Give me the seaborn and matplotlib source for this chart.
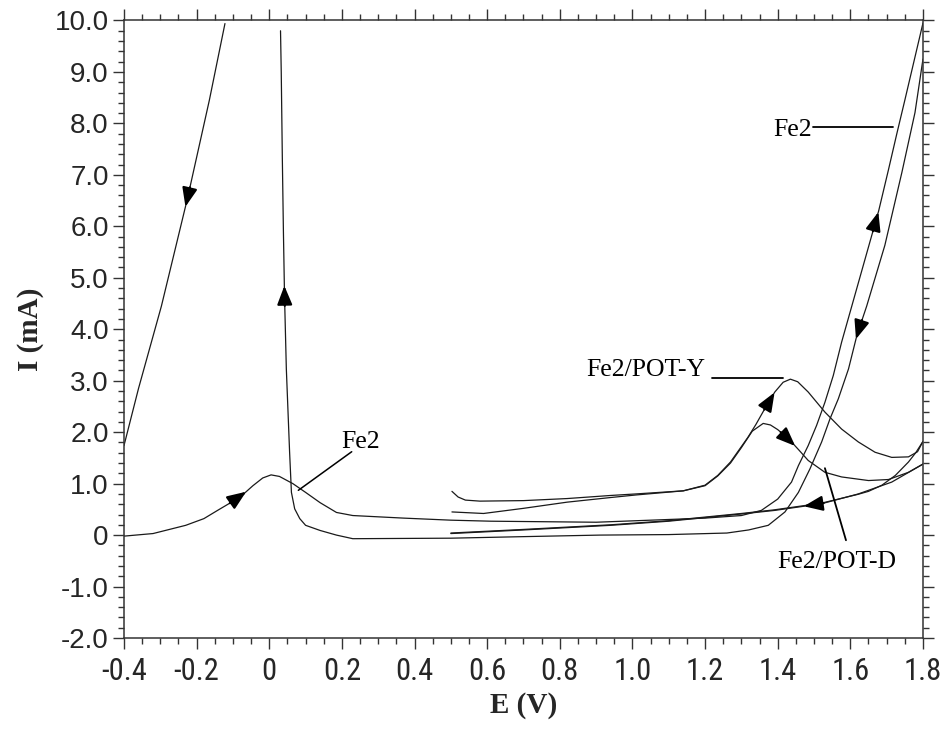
import numpy as np
import pandas as pd
import matplotlib
matplotlib.use("Agg")
import matplotlib.pyplot as plt
import seaborn as sns
from matplotlib import font_manager
from matplotlib.ticker import MultipleLocator

# ---------------- data ----------------
# Fe2, forward scan
fe2_fwd_E = [-0.40, -0.32, -0.23, -0.18, -0.14, -0.08, -0.045, -0.018, 0.005, 0.028,
             0.065, 0.10, 0.14, 0.185, 0.23, 0.37, 0.50, 0.61, 0.90, 1.05,
             1.20, 1.30, 1.355, 1.40, 1.438, 1.457, 1.484, 1.507, 1.53, 1.553,
             1.576, 1.604, 1.64, 1.678, 1.705, 1.728, 1.75, 1.775, 1.80]
fe2_fwd_I = [-0.02, 0.03, 0.19, 0.32, 0.49, 0.74, 0.96, 1.11, 1.17, 1.14,
             1.00, 0.83, 0.63, 0.44, 0.38, 0.33, 0.29, 0.27, 0.25, 0.29,
             0.33, 0.38, 0.48, 0.70, 1.03, 1.35, 1.74, 2.13, 2.58, 3.10,
             3.75, 4.45, 5.35, 6.30, 7.10, 7.80, 8.45, 9.20, 9.95]
# Fe2, reverse scan
fe2_rev_E = [1.80, 1.778, 1.742, 1.695, 1.645, 1.618, 1.595, 1.567, 1.544, 1.521,
             1.489, 1.457, 1.42, 1.374, 1.32, 1.26, 1.10, 0.91, 0.70, 0.50,
             0.23, 0.185, 0.14, 0.10, 0.084, 0.07, 0.061, 0.056, 0.047, 0.042,
             0.039, 0.036, 0.033, 0.031]
fe2_rev_I = [9.25, 8.21, 7.05, 5.63, 4.45, 3.88, 3.23, 2.65, 2.26, 1.81,
             1.29, 0.83, 0.45, 0.19, 0.10, 0.04, 0.01, 0.00, -0.03, -0.06,
             -0.07, 0.00, 0.09, 0.19, 0.32, 0.51, 0.83, 1.61, 3.23, 4.65,
             5.88, 7.31, 8.99, 9.80]
# Fe2, return branch on the far left
fe2_ret_E = [-0.122, -0.165, -0.225, -0.297, -0.36, -0.40]
fe2_ret_I = [9.94, 8.45, 6.55, 4.45, 2.85, 1.74]

# Fe2/POT-Y
poty_fwd_E = [0.503, 0.52, 0.54, 0.58, 0.70, 0.82, 0.94, 1.01, 1.14, 1.20,
              1.235, 1.27, 1.30, 1.318, 1.34, 1.364, 1.392, 1.415, 1.435, 1.455,
              1.484, 1.53, 1.576, 1.622, 1.668, 1.714, 1.76, 1.785, 1.80]
poty_fwd_I = [0.85, 0.74, 0.68, 0.66, 0.67, 0.71, 0.77, 0.80, 0.86, 0.97,
              1.16, 1.42, 1.72, 1.90, 2.15, 2.45, 2.78, 2.97, 3.03, 2.98,
              2.78, 2.39, 2.06, 1.81, 1.61, 1.51, 1.52, 1.62, 1.82]
poty_rev_E = [1.80, 1.78, 1.76, 1.724, 1.687, 1.65, 1.62, 1.52, 1.39, 1.30,
              1.20, 1.10, 0.94, 0.70, 0.50]
poty_rev_I = [1.82, 1.60, 1.42, 1.16, 0.97, 0.85, 0.79, 0.62, 0.49, 0.42,
              0.35, 0.28, 0.20, 0.11, 0.04]

# Fe2/POT-D
potd_fwd_E = [0.503, 0.59, 0.70, 0.82, 0.94, 1.01, 1.14, 1.20, 1.235, 1.27,
              1.30, 1.33, 1.36, 1.38, 1.40, 1.42, 1.438, 1.46, 1.484, 1.53,
              1.576, 1.65, 1.705, 1.76, 1.80]
potd_fwd_I = [0.45, 0.42, 0.52, 0.64, 0.73, 0.78, 0.86, 0.96, 1.15, 1.40,
              1.70, 2.02, 2.17, 2.14, 2.05, 1.93, 1.81, 1.64, 1.45, 1.22,
              1.13, 1.06, 1.08, 1.22, 1.38]
potd_rev_E = [1.80, 1.714, 1.622, 1.521, 1.392, 1.30, 1.20, 1.10, 0.94, 0.70, 0.50]
potd_rev_I = [1.38, 1.03, 0.80, 0.61, 0.48, 0.41, 0.34, 0.27, 0.19, 0.10, 0.03]

x_ticks = [-0.4, -0.2, 0.0, 0.2, 0.4, 0.6, 0.8, 1.0, 1.2, 1.4, 1.6, 1.8]
x_ticklabels = ["-0.4", "-0.2", "0", "0.2", "0.4", "0.6", "0.8", "1.0", "1.2", "1.4", "1.6", "1.8"]
y_ticks = [-2, -1, 0, 1, 2, 3, 4, 5, 6, 7, 8, 9, 10]
y_ticklabels = ["-2.0", "-1.0", "0", "1.0", "2.0", "3.0", "4.0", "5.0", "6.0", "7.0", "8.0", "9.0", "10.0"]

# ---------------- styling ----------------
sns.set_style("ticks")
plt.rcParams["font.family"] = ["Liberation Sans", "DejaVu Sans"]
available = {f.name for f in font_manager.fontManager.ttflist}
narrow = None
for cand in ["Liberation Sans Narrow", "Roboto Condensed", "Open Sans Condensed",
             "Noto Sans Condensed", "DejaVu Sans Condensed"]:
    if cand in available:
        narrow = cand
        break
if narrow is None:
    xfont, xsize = "Liberation Sans", 21
else:
    xfont, xsize = narrow, 22
LINE = "#1a1a1a"
FRAME = "#333333"

paths = [
    ("Fe2", "fe2_fwd", fe2_fwd_E, fe2_fwd_I),
    ("Fe2", "fe2_rev", fe2_rev_E, fe2_rev_I),
    ("Fe2", "fe2_ret", fe2_ret_E, fe2_ret_I),
    ("Fe2/POT-Y", "poty_fwd", poty_fwd_E, poty_fwd_I),
    ("Fe2/POT-Y", "poty_rev", poty_rev_E, poty_rev_I),
    ("Fe2/POT-D", "potd_fwd", potd_fwd_E, potd_fwd_I),
    ("Fe2/POT-D", "potd_rev", potd_rev_E, potd_rev_I),
]
frames = []
for series, pid, e, i in paths:
    frames.append(pd.DataFrame({"E": e, "I": i, "series": series, "path": pid,
                                "order": np.arange(len(e))}))
df = pd.concat(frames, ignore_index=True)

fig = plt.figure(figsize=(9.48, 7.53), dpi=100)
ax = fig.add_axes([0.1308, 0.1527, 0.8428, 0.8201])

sns.lineplot(data=df, x="E", y="I", units="path", estimator=None, sort=False,
             color=LINE, linewidth=0.9, legend=False, ax=ax)

ax.set_xlim(-0.4, 1.8)
ax.set_ylim(-2, 10)
ax.set_xticks(x_ticks)
ax.set_xticklabels(x_ticklabels, fontfamily=xfont, fontsize=xsize)
ax.set_yticks(y_ticks)
ax.set_yticklabels(y_ticklabels, fontsize=20)
ax.xaxis.set_minor_locator(MultipleLocator(0.05))
ax.yaxis.set_minor_locator(MultipleLocator(0.2))
ax.tick_params(which="both", direction="out", top=True, right=True,
               labeltop=False, labelright=False, color=FRAME, width=1.0)
ax.tick_params(which="major", length=8)
ax.tick_params(which="minor", length=4.5)
ax.tick_params(axis="x", which="major", pad=6)
ax.tick_params(axis="y", which="major", pad=3)
for sp in ax.spines.values():
    sp.set_visible(True)
    sp.set_color(FRAME)
    sp.set_linewidth(1.1)

ax.set_xlabel("E (V)", fontfamily="Liberation Serif", fontweight="bold", fontsize=21)
ax.set_ylabel("I (mA)", fontfamily="Liberation Serif", fontweight="bold", fontsize=21)
ax.xaxis.label.set_va("center")
ax.yaxis.label.set_va("center")
ax.xaxis.set_label_coords(0.5, -0.1100)
ax.yaxis.set_label_coords(-0.1165, 0.5)

# ---------------- direction arrows along the curves ----------------
def arrow_on(E, I, near, total_px=20):
    pts = ax.transData.transform(np.column_stack([E, I]))
    dense = []
    for a, b in zip(pts[:-1], pts[1:]):
        n = max(int(np.hypot(*(b - a))), 1)
        t = np.linspace(0, 1, n, endpoint=False)[:, None]
        dense.append(a + (b - a) * t)
    dense.append(pts[-1:])
    dense = np.vstack(dense)
    cum = np.concatenate([[0], np.cumsum(np.hypot(*np.diff(dense, axis=0).T))])
    tgt = ax.transData.transform(near)
    k = np.argmin(np.hypot(*(dense - tgt).T))
    s = cum[k]
    def at(sv):
        sv = np.clip(sv, 0, cum[-1])
        return np.array([np.interp(sv, cum, dense[:, 0]), np.interp(sv, cum, dense[:, 1])])
    tail = ax.transData.inverted().transform(at(s - total_px / 2))
    tip = ax.transData.inverted().transform(at(s + total_px / 2))
    ax.annotate("", xy=tip, xytext=tail,
                arrowprops=dict(arrowstyle="-|>,head_length=0.95,head_width=0.38",
                                color="black", lw=1.6, shrinkA=0, shrinkB=0,
                                mutation_scale=12))

arrow_on(fe2_ret_E, fe2_ret_I, (-0.218, 6.56))
arrow_on(fe2_rev_E, fe2_rev_I, (0.042, 4.65))
arrow_on(fe2_fwd_E, fe2_fwd_I, (-0.085, 0.74))
arrow_on(fe2_fwd_E, fe2_fwd_I, (1.664, 6.1))
arrow_on(fe2_rev_E, fe2_rev_I, (1.62, 4.0))
arrow_on(poty_fwd_E, poty_fwd_I, (1.38, 2.6))
arrow_on(potd_fwd_E, potd_fwd_I, (1.43, 1.87))
arrow_on(potd_rev_E, potd_rev_I, (1.50, 0.58))

# ---------------- curve labels ----------------
lab_kw = dict(fontfamily="Liberation Serif", fontsize=18.5, color="black")
ax.text(0.199, 1.69, "Fe2", ha="left", va="baseline", **lab_kw)
ax.plot([0.227, 0.080], [1.62, 0.87], color="black", lw=1.1)
ax.text(1.493, 7.75, "Fe2", ha="right", va="baseline", **lab_kw)
ax.plot([1.498, 1.718], [7.93, 7.93], color="black", lw=1.3)
ax.text(1.20, 3.09, "Fe2/POT-Y", ha="right", va="baseline", **lab_kw)
ax.plot([1.218, 1.415], [3.06, 3.06], color="black", lw=1.3)
ax.text(1.562, -0.64, "Fe2/POT-D", ha="center", va="baseline", **lab_kw)
ax.plot([1.530, 1.588], [1.30, -0.10], color="black", lw=1.3)

fig.savefig("out.png", dpi=100)
